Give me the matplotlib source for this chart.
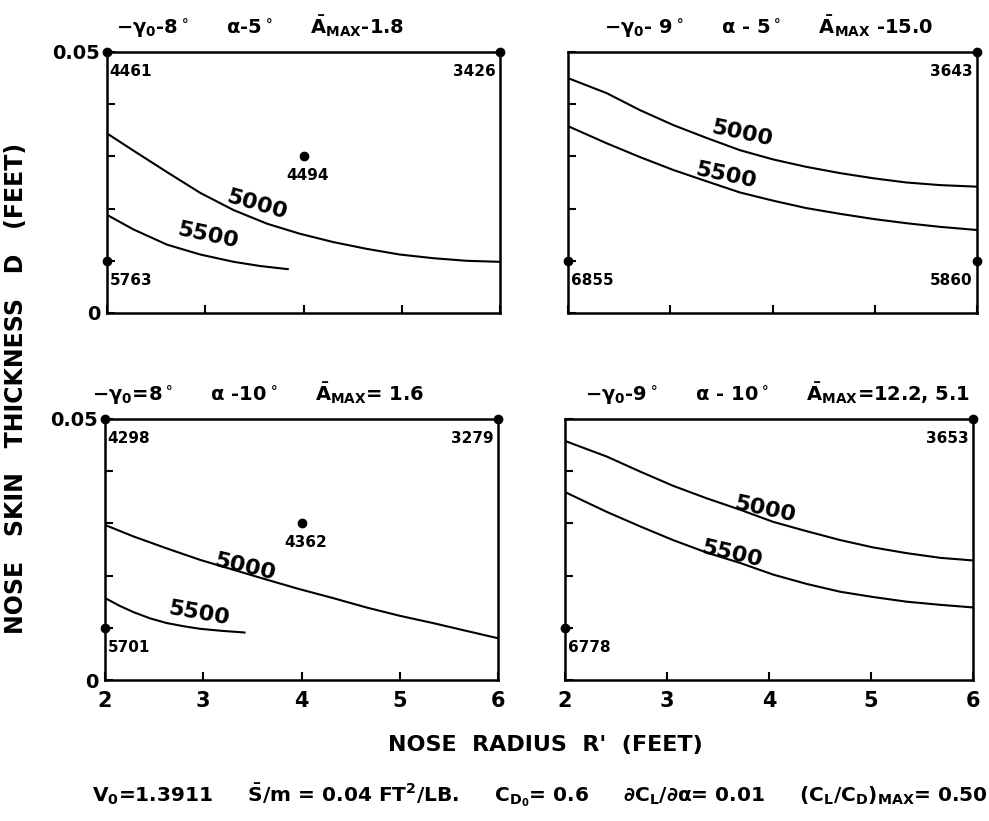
import numpy as np
import matplotlib
matplotlib.use("Agg")
import matplotlib.pyplot as plt

plt.rcParams['font.family'] = ['DejaVu Sans']
plt.rcParams['font.weight'] = 'bold'
plt.rcParams['mathtext.fontset'] = 'dejavusans'
plt.rcParams['mathtext.default'] = 'bf'

# ---- data: nose radius R' (ft) vs skin thickness D (ft)
# top-left: -gamma0 = 8 deg, alpha = 5 deg
tl_r_5000 = [2.0, 2.27, 2.61, 2.95, 3.29, 3.63, 3.96, 4.30, 4.64, 4.98, 5.32, 5.66, 6.0]
tl_d_5000 = [0.0344, 0.0311, 0.0270, 0.0230, 0.0197, 0.0171, 0.0152, 0.0136, 0.0123, 0.0112, 0.0105, 0.0100, 0.0098]
tl_r_5500 = [2.0, 2.27, 2.61, 2.95, 3.29, 3.56, 3.84]
tl_d_5500 = [0.0188, 0.0160, 0.0131, 0.0112, 0.0098, 0.0090, 0.0084]

# top-right: -gamma0 = 9 deg, alpha = 5 deg
tr_r = [2.0, 2.38, 2.70, 3.03, 3.36, 3.68, 4.01, 4.33, 4.66, 4.99, 5.31, 5.64, 6.0]
tr_d_5000 = [0.0450, 0.0421, 0.0389, 0.0360, 0.0335, 0.0312, 0.0294, 0.0280, 0.0268, 0.0258, 0.0250, 0.0245, 0.0242]
tr_d_5500 = [0.0358, 0.0325, 0.0299, 0.0274, 0.0252, 0.0231, 0.0215, 0.0201, 0.0190, 0.0180, 0.0172, 0.0165, 0.0159]

# bottom-left: -gamma0 = 8 deg, alpha = 10 deg
bl_r_5000 = [2.0, 2.29, 2.63, 2.97, 3.31, 3.65, 3.98, 4.32, 4.66, 5.0, 5.34, 5.68, 6.0]
bl_d_5000 = [0.0297, 0.0275, 0.0252, 0.0230, 0.0211, 0.0192, 0.0174, 0.0157, 0.0139, 0.0123, 0.0109, 0.0094, 0.0080]
bl_r_5500 = [2.0, 2.15, 2.29, 2.46, 2.63, 2.80, 2.97, 3.20, 3.42]
bl_d_5500 = [0.0157, 0.0142, 0.0130, 0.0118, 0.0109, 0.0103, 0.0098, 0.0094, 0.0091]

# bottom-right: -gamma0 = 9 deg, alpha = 10 deg
br_r = [2.0, 2.41, 2.74, 3.06, 3.39, 3.72, 4.04, 4.37, 4.70, 5.02, 5.35, 5.68, 6.0]
br_d_5000 = [0.0458, 0.0428, 0.0399, 0.0372, 0.0348, 0.0326, 0.0303, 0.0285, 0.0268, 0.0254, 0.0243, 0.0234, 0.0229]
br_d_5500 = [0.0360, 0.0322, 0.0294, 0.0268, 0.0244, 0.0224, 0.0202, 0.0184, 0.0169, 0.0159, 0.0150, 0.0144, 0.0139]

# labelled points (R, D, value)
tl_pts = [(2, 0.05, '4461'), (6, 0.05, '3426'), (2, 0.01, '5763'), (4, 0.030, '4494')]
tr_pts = [(6, 0.05, '3643'), (2, 0.01, '6855'), (6, 0.01, '5860')]
bl_pts = [(2, 0.05, '4298'), (6, 0.05, '3279'), (2, 0.01, '5701'), (4, 0.030, '4362')]
br_pts = [(6, 0.05, '3653'), (2, 0.01, '6778')]

titles = [
    r'$-\gamma_0$-8$^\circ$     $\alpha$-5$^\circ$     $\bar{A}_{MAX}$-1.8',
    r'$-\gamma_0$- 9$^\circ$     $\alpha$ - 5$^\circ$     $\bar{A}_{MAX}$ -15.0',
    r'$-\gamma_0$=8$^\circ$     $\alpha$ -10$^\circ$     $\bar{A}_{MAX}$= 1.6',
    r'$-\gamma_0$-9$^\circ$     $\alpha$ - 10$^\circ$     $\bar{A}_{MAX}$=12.2, 5.1',
]

fig = plt.figure(figsize=(9.89, 8.21), dpi=100)
W, H = 989, 821


def add_ax(x0, x1, y0, y1):
    return fig.add_axes([x0 / W, 1 - y1 / H, (x1 - x0) / W, (y1 - y0) / H])


ax_tl = add_ax(107, 500, 52, 313)
ax_tr = add_ax(568, 977, 52, 313)
ax_bl = add_ax(105, 498, 419, 680)
ax_br = add_ax(565, 973, 419, 680)

for ax, left, bottom in [(ax_tl, True, False), (ax_tr, False, False),
                         (ax_bl, True, True), (ax_br, False, True)]:
    ax.set_xlim(2, 6)
    ax.set_ylim(0, 0.05)
    for s in ax.spines.values():
        s.set_linewidth(1.8)
    ax.set_xticks([2, 3, 4, 5, 6])
    ax.set_yticks([0, 0.01, 0.02, 0.03, 0.04, 0.05])
    ax.tick_params(direction='in', length=6, width=1.5)
    ax.tick_params(axis='x', pad=8, labelsize=15)
    ax.tick_params(axis='y', pad=5, labelsize=14)
    if bottom:
        ax.set_xticklabels(['2', '3', '4', '5', '6'], fontweight='bold')
    else:
        ax.set_xticklabels([])
    if left:
        ax.set_yticklabels(['0', '', '', '', '', '0.05'], fontweight='bold')
    else:
        ax.set_yticklabels([])

lw = 1.5
ax_tl.plot(tl_r_5000, tl_d_5000, color='black', lw=lw)
ax_tl.plot(tl_r_5500, tl_d_5500, color='black', lw=lw)
ax_tr.plot(tr_r, tr_d_5000, color='black', lw=lw)
ax_tr.plot(tr_r, tr_d_5500, color='black', lw=lw)
ax_bl.plot(bl_r_5000, bl_d_5000, color='black', lw=lw)
ax_bl.plot(bl_r_5500, bl_d_5500, color='black', lw=lw)
ax_br.plot(br_r, br_d_5000, color='black', lw=lw)
ax_br.plot(br_r, br_d_5500, color='black', lw=lw)

# curve labels (R, D, rotation)
curve_labels = [
    (ax_tl, 3.53, 0.0207, -16, '5000'), (ax_tl, 3.03, 0.0148, -12, '5500'),
    (ax_tr, 3.70, 0.0344, -12, '5000'), (ax_tr, 3.54, 0.0264, -12, '5500'),
    (ax_bl, 3.42, 0.0216, -13, '5000'), (ax_bl, 2.95, 0.0127, -10, '5500'),
    (ax_br, 3.96, 0.0327, -12, '5000'), (ax_br, 3.64, 0.0242, -13, '5500'),
]
for ax, r, d, rot, s in curve_labels:
    ax.text(r, d, s, rotation=rot, ha='center', va='center', fontsize=16,
            fontweight='bold')

for ax, pts in [(ax_tl, tl_pts), (ax_tr, tr_pts), (ax_bl, bl_pts), (ax_br, br_pts)]:
    for r, d, s in pts:
        ax.plot([r], [d], 'o', color='black', ms=6, clip_on=False, zorder=5)
        if r == 2:
            ha, dx = 'left', 2
        elif r == 6:
            ha, dx = 'right', -3
        else:
            ha, dx = 'center', 3
        ax.annotate(s, (r, d), xytext=(dx, -14), textcoords='offset points',
                    ha=ha, va='center', fontsize=11, fontweight='bold')

title_x = [0.39, 0.49, 0.39, 0.52]
for ax, t, tx in zip([ax_tl, ax_tr, ax_bl, ax_br], titles, title_x):
    ax.text(tx, 1.095, t, transform=ax.transAxes, ha='center', va='center',
            fontsize=14, fontweight='bold')

fig.text(16 / W, 1 - 388 / H, 'NOSE   SKIN   THICKNESS   D   (FEET)', rotation=90,
         ha='center', va='center', fontsize=17, fontweight='bold')
fig.text(545 / W, 1 - 745 / H, "NOSE  RADIUS  R'  (FEET)", ha='center',
         va='center', fontsize=16, fontweight='bold')
fig.text(540 / W, 1 - 795 / H,
         r"$V_0$=1.3911     $\bar{S}$/m = 0.04 FT$^2$/LB.     $C_{D_0}$= 0.6     "
         r"$\partial C_L/\partial\alpha$= 0.01     $(C_L/C_D)_{MAX}$= 0.50",
         ha='center', va='center', fontsize=14.5, fontweight='bold')

fig.savefig('out.png', dpi=100)
